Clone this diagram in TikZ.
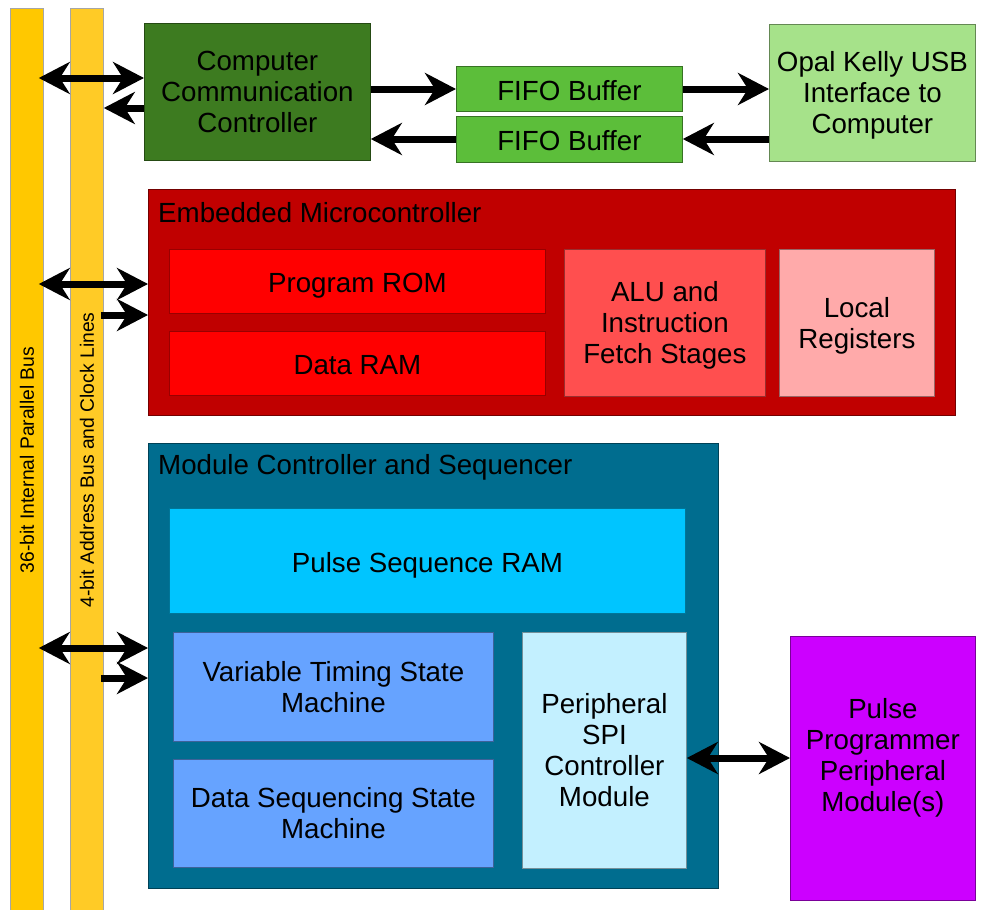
\documentclass[tikz,border=0pt]{standalone}
\usepackage{fontspec}
\setmainfont{Liberation Sans}
\usetikzlibrary{arrows.meta,calc}

\definecolor{busA}{HTML}{FFC800}
\definecolor{busB}{HTML}{FFCB26}
\definecolor{cccGreen}{HTML}{3D7B20}
\definecolor{fifoGreen}{HTML}{5CBE3A}
\definecolor{usbGreen}{HTML}{A6E28A}
\definecolor{emRed}{HTML}{C00000}
\definecolor{memRed}{HTML}{FF0000}
\definecolor{aluRed}{HTML}{FF4F4F}
\definecolor{regPink}{HTML}{FFAAAA}
\definecolor{mcsTeal}{HTML}{006D8F}
\definecolor{psrCyan}{HTML}{00C5FF}
\definecolor{smBlue}{HTML}{66A3FF}
\definecolor{spiCyan}{HTML}{C3F0FF}
\definecolor{ppPurple}{HTML}{CC00FF}

\begin{document}
\begin{tikzpicture}[x=1pt,y=-1pt,
  % fixed top/bottom extents so every block's text sits at the same spot
  evenlines/.style={execute at begin node={\rule{0pt}{29.3pt}},
                    execute at end node={\rule[-6.5pt]{0pt}{0pt}}},
  % blocks with several lines: trim the box depth to centre the caps
  multi/.style={text depth=-2.3pt},
  blk/.style={draw=#1!60!black, fill=#1, line width=0.8pt, inner sep=0pt,
    anchor=north west, align=center, font=\fontsize{27.7}{31}\selectfont, evenlines},
  bus/.style={draw=black!35, fill=#1, line width=0.8pt, inner sep=0pt, anchor=north west},
  buslabel/.style={rotate=90, font=\fontsize{19.3}{22}\selectfont},
  grouplabel/.style={anchor=west, inner sep=0pt, font=\fontsize{27.7}{31}\selectfont},
  bodytext/.style={align=center, inner sep=0pt, font=\fontsize{27.7}{31}\selectfont, evenlines},
  tiphead/.tip={Stealth[length=31pt, width=32pt, inset=10pt]},
  sgl/.style={line width=7pt, -tiphead},
  dbl/.style={line width=7pt, tiphead-tiphead}
]
\useasboundingbox (0,0) rectangle (988,910);

% vertical buses
\node[bus=busA, minimum width=33pt, minimum height=910pt] (bus1) at (10,8) {};
\node[bus=busB, minimum width=33pt, minimum height=910pt] (bus2) at (70,8) {};
\node[buslabel] (bus1lbl) at (bus1.center |- 0,460) {36-bit Internal Parallel Bus};
\node[buslabel] (bus2lbl) at (bus2.center |- 0,460) {4-bit Address Bus and Clock Lines};

% host link
\node[blk=cccGreen, multi, minimum width=226pt, minimum height=137pt] (ccc) at (144,23)
  {Computer\\Communication\\Controller};
\node[blk=fifoGreen, minimum width=226pt, minimum height=45pt] (fifo1) at (456,66) {FIFO Buffer};
\node[blk=fifoGreen, minimum width=226pt, minimum height=46pt] (fifo2) at (456,116) {FIFO Buffer};
\node[blk=usbGreen, multi, minimum width=206pt, minimum height=137pt] (usb) at (769,24)
  {Opal Kelly USB\\Interface to\\Computer};

% embedded microcontroller
\node[blk=emRed, minimum width=807pt, minimum height=226pt] (em) at (148,189) {};
\node[grouplabel] (emlbl) at (158,213) {Embedded Microcontroller};
\node[blk=memRed, minimum width=376pt, minimum height=64pt] (rom) at (169,249) {Program ROM};
\node[blk=memRed, minimum width=376pt, minimum height=64pt] (ram) at (169,331) {Data RAM};
\node[blk=aluRed, multi, minimum width=201pt, minimum height=147pt] (alu) at (564,249)
  {ALU and\\Instruction\\Fetch Stages};
\node[blk=regPink, multi, minimum width=155pt, minimum height=147pt] (regs) at (779,249)
  {Local\\Registers};

% module controller and sequencer
\node[blk=mcsTeal, minimum width=570pt, minimum height=445pt] (mcs) at (148,443) {};
\node[grouplabel] (mcslbl) at (158,467) {Module Controller and Sequencer};
\node[blk=psrCyan, minimum width=516pt, minimum height=105pt] (psr) at (169,508) {Pulse Sequence RAM};
\node[blk=smBlue, multi, minimum width=320pt, minimum height=109pt] (vtsm) at (173,632)
  {Variable Timing State\\Machine};
\node[blk=smBlue, multi, minimum width=320pt, minimum height=108pt] (dssm) at (173,759)
  {Data Sequencing State\\Machine};
\node[blk=spiCyan, multi, minimum width=164pt, minimum height=236pt] (spi) at (522,632)
  {Peripheral\\SPI\\Controller\\Module};

% external peripheral
\node[blk=ppPurple, minimum width=185pt, minimum height=264pt] (pp) at (790,636) {};
\node[bodytext, multi] (pptxt) at ($(pp.center)+(0,-13)$) {Pulse\\Programmer\\Peripheral\\Module(s)};

% connectors
\draw[dbl, shorten <=-5pt] (bus1.east |- 0,78) -- (ccc.west |- 0,78);
\draw[sgl] (ccc.west |- 0,108) -- (bus2.east |- 0,108);
\draw[sgl] (ccc.east |- 0,89) -- (fifo1.west |- 0,89);
\draw[sgl] (fifo1.east |- 0,89) -- (usb.west |- 0,89);
\draw[sgl] (usb.west |- 0,139) -- (fifo2.east |- 0,139);
\draw[sgl] (fifo2.west |- 0,139) -- (ccc.east |- 0,139);

\draw[dbl, shorten <=-5pt] (bus1.east |- 0,284) -- (em.west |- 0,284);
\draw[sgl, shorten <=-3pt] (bus2.east |- 0,315) -- (em.west |- 0,315);

\draw[dbl, shorten <=-5pt] (bus1.east |- 0,648) -- (mcs.west |- 0,648);
\draw[sgl, shorten <=-3pt] (bus2.east |- 0,678) -- (mcs.west |- 0,678);

\draw[dbl] (spi.east |- 0,758) -- (pp.west |- 0,758);
\end{tikzpicture}
\end{document}
